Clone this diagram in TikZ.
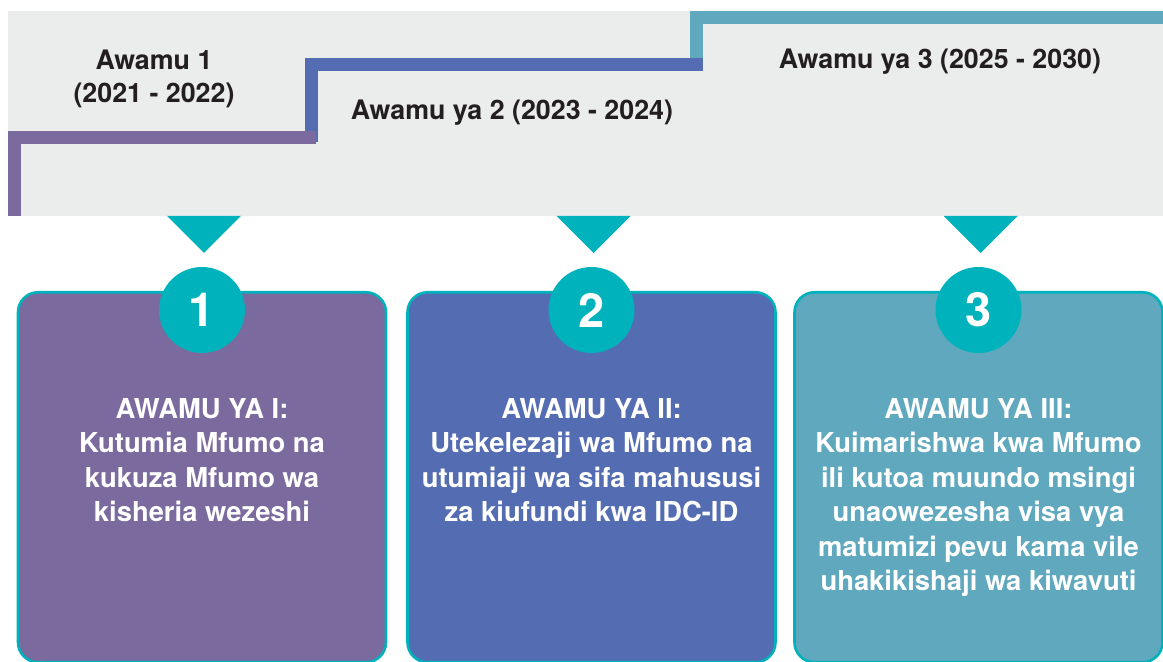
\documentclass[tikz,border=0pt]{standalone}
\usepackage{fontspec}
\setmainfont{TeX Gyre Heros}
\definecolor{ink}{HTML}{231F20}
\definecolor{band}{HTML}{EBECEC}
\definecolor{teal}{HTML}{00B2BC}
\definecolor{phaseA}{HTML}{7A6A9E}
\definecolor{phaseB}{HTML}{546CB2}
\definecolor{phaseC}{HTML}{5FA8BE}

\begin{document}
\begin{tikzpicture}[x=0.5pt,y=-0.5pt,
    font=\bfseries\fontsize{13.4}{17.25}\selectfont,text=ink,
    stepline/.style={line width=6.5pt,line join=miter},
    phasebox/.style={draw=teal,line width=1.3pt,rounded corners=10pt,
      minimum width=184pt,minimum height=185pt,anchor=north,inner sep=0pt},
    numdisc/.style={circle,fill=teal,text=white,minimum size=43pt,inner sep=0pt,
      font=\bfseries\fontsize{23.5}{23.5}\selectfont},
    boxtext/.style={anchor=north,align=center,text=white,inner sep=0pt,
      font=\bfseries\fontsize{13.7}{17.25}\selectfont}]
  \useasboundingbox (0,0) rectangle (1163,662);

  % timeline band with the three steps
  \fill[band] (8,11) rectangle (1163,216);
  \draw[stepline,phaseC] (696.5,71) -- (696.5,17.5) -- (1163,17.5);
  \draw[stepline,phaseB] (311.5,142) -- (311.5,64.5) -- (703,64.5);
  \draw[stepline,phaseA] (14.5,216) -- (14.5,137.5) -- (316,137.5);

  \node[anchor=north,align=center,inner sep=0pt,
    font=\bfseries\fontsize{13.4}{16.5}\selectfont] (per1) at (154,50)
    {Awamu 1\\(2021 - 2022)};
  \node[anchor=base,inner sep=0pt] (per2) at (512,120)
    {Awamu ya 2 (2023 - 2024)};
  \node[anchor=base,inner sep=0pt] (per3) at (940,69)
    {Awamu ya 3 (2025 - 2030)};

  % phase cards
  \foreach \i/\xc/\col/\txt in {
      1/202/phaseA/{AWAMU YA I:\\Kutumia Mfumo na\\kukuza Mfumo wa\\kisheria wezeshi},
      2/591.5/phaseB/{AWAMU YA II:\\Utekelezaji wa Mfumo na\\utumiaji wa sifa mahususi\\za kiufundi kwa IDC-ID},
      3/978.5/phaseC/{AWAMU YA III:\\Kuimarishwa kwa Mfumo\\ili kutoa muundo msingi\\unaowezesha visa vya\\matumizi pevu kama vile\\uhakikishaji wa kiwavuti}}{
    \fill[teal] (\xc-35,216) -- (\xc+39,216) -- (\xc+2,253) -- cycle;
    \node[phasebox,fill=\col] (card\i) at (\xc,291) {};
    \node[numdisc] (num\i) at (\xc,310) {\i};
    \node[boxtext] (txt\i) at (\xc,398) {\txt};
  }
\end{tikzpicture}
\end{document}
